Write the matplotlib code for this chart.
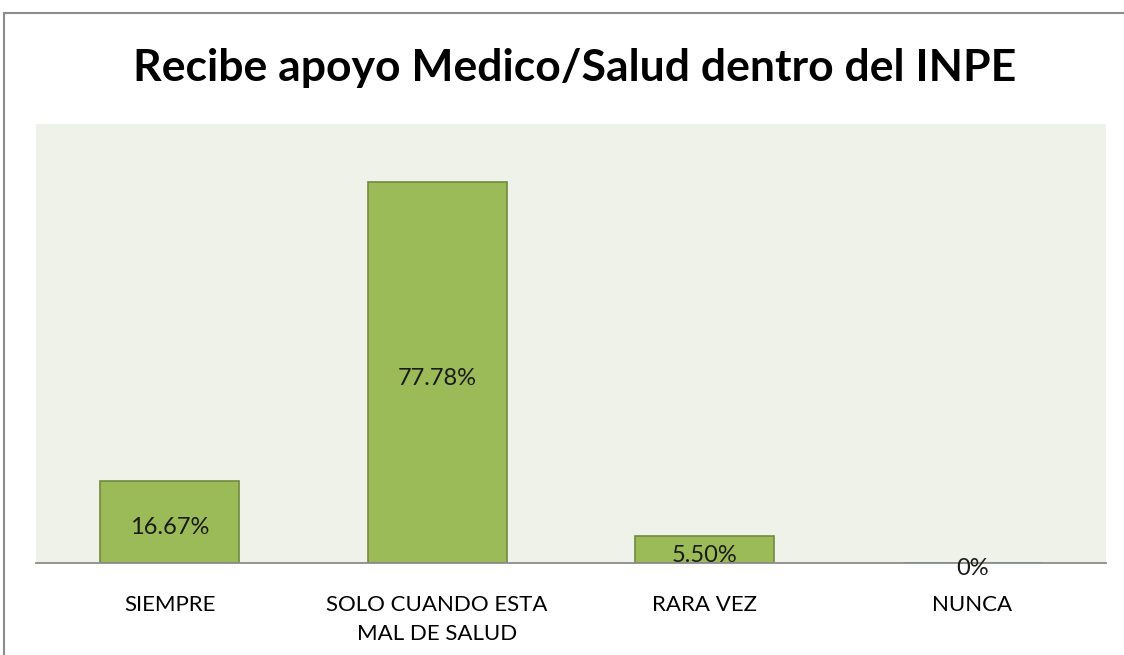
import matplotlib
matplotlib.use("Agg")
import matplotlib.pyplot as plt
from matplotlib.patches import Rectangle

plt.rcParams['font.family'] = ['Lato', 'DejaVu Sans']

categories = ["SIEMPRE", "SOLO CUANDO ESTA\nMAL DE SALUD", "RARA VEZ", "NUNCA"]
values = [16.67, 77.78, 5.50, 0.0]
value_labels = ["16.67%", "77.78%", "5.50%", "0%"]

fig = plt.figure(figsize=(11.24, 6.55), dpi=100)
fig.patch.set_facecolor("white")

# chart border (only left and top show in the crop)
fig.patches.append(Rectangle((4 / 1124, -0.1), 1.2, 1 - 13 / 655 + 0.1,
                             transform=fig.transFigure, fill=False,
                             edgecolor="#8c8c8c", linewidth=1.5))

ax = fig.add_axes([36 / 1124, 1 - 563 / 655, 1070 / 1124, 439 / 655])
ax.set_facecolor("#eff2e9")

x = range(len(categories))
bars = ax.bar(x, values, width=0.52, color="#9bbb59", edgecolor="#71893f", linewidth=1.2, zorder=2)

ax.set_xlim(-0.5, len(categories) - 0.5)
ax.set_ylim(0, 89.6)
ax.set_yticks([])
ax.set_xticks(list(x))
ax.set_xticklabels(categories, fontsize=16, linespacing=1.55)
ax.tick_params(axis="x", length=0, pad=23)

for s in ["top", "left", "right"]:
    ax.spines[s].set_visible(False)
ax.spines["bottom"].set_color("#8c8c8c")
ax.spines["bottom"].set_linewidth(1.3)
ax.spines["bottom"].set_zorder(3)

# Excel-style centred data labels, sitting a few pixels low
for b, lab in zip(bars, value_labels):
    ax.annotate(lab, (b.get_x() + b.get_width() / 2, b.get_height() / 2),
                xytext=(0, -4), textcoords="offset points",
                ha="center", va="center", fontsize=17, color="#1a1a1a", zorder=4,
                annotation_clip=False)

fig.text(575 / 1124, 1 - 68 / 655, "Recibe apoyo Medico/Salud dentro del INPE",
         ha="center", va="center", fontsize=32, fontweight="bold", color="black")

fig.savefig("out.png", dpi=100, facecolor="white")
